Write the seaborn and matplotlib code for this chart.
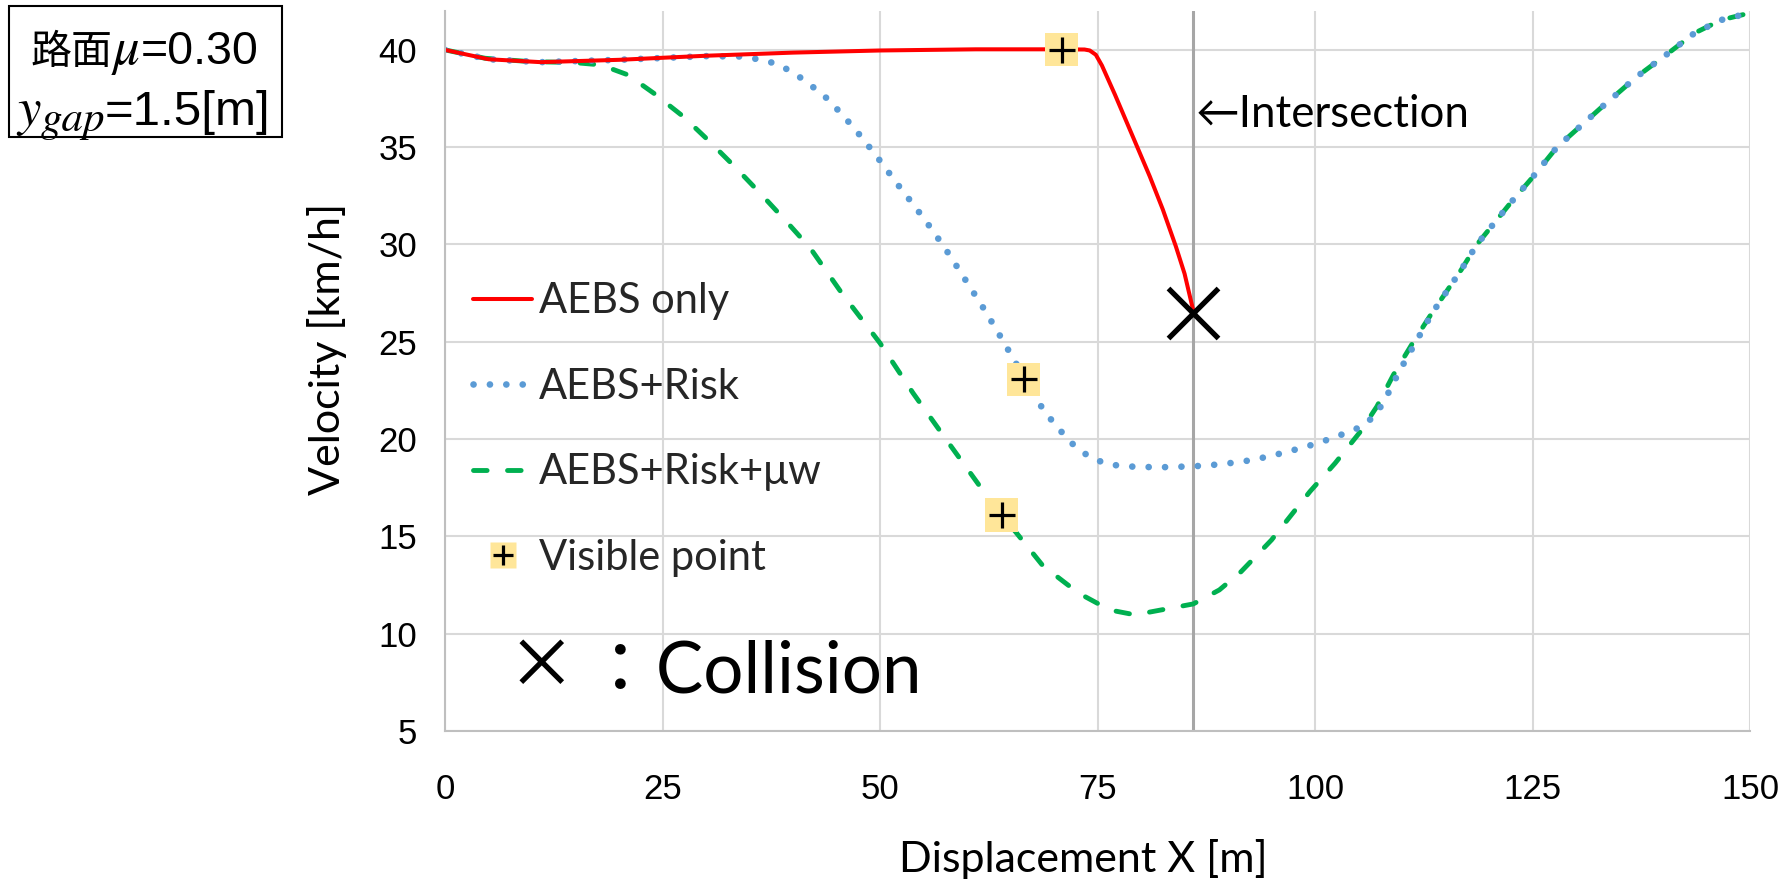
import matplotlib

matplotlib.use("Agg")
import matplotlib.pyplot as plt
import pandas as pd
import seaborn as sns
from matplotlib.lines import Line2D
from matplotlib.patches import Rectangle

# shared rising tail (AEBS+Risk and AEBS+Risk+uw overlap here)
tail_x = [116.8, 118.6, 122.4, 124.9, 127.8, 132.8, 137.0, 140.6, 143.6, 146.7, 150.0]
tail_y = [28.7, 30.0, 32.1, 33.4, 35.0, 37.0, 38.63, 39.83, 40.86, 41.54, 41.9]

only_x = [0, 5, 11, 20, 30, 40, 50, 61, 70, 73.5, 74.1, 74.8, 75.5, 77.0, 79.0, 81.0, 82.5,
          84.0, 85.0, 86.0]
only_y = [40.0, 39.52, 39.37, 39.49, 39.7, 39.86, 39.97, 40.03, 40.03, 40.02, 39.97, 39.75,
          39.2, 37.7, 35.6, 33.5, 31.8, 29.9, 28.5, 26.6]

risk_x = [0, 5, 11, 20, 30, 34, 36, 38, 40, 42, 44, 46, 48, 50, 52, 54, 56, 58, 60, 62, 64,
          66, 68, 70, 72, 74, 76, 78, 82, 86, 89.3, 92.9, 96.7, 100.4, 103.9, 105.6, 107.0,
          108.0, 109.7, 111.6, 113.5] + tail_x
risk_y = [40.0, 39.52, 39.37, 39.49, 39.68, 39.66, 39.52, 39.3, 38.85, 38.2, 37.47, 36.5,
          35.45, 34.3, 33.1, 31.95, 30.75, 29.45, 28.05, 26.65, 25.15, 23.6, 22.0, 20.8, 19.8,
          19.1, 18.73, 18.6, 18.55, 18.6, 18.71, 18.93, 19.33, 19.8, 20.37, 20.7, 21.28, 22.0,
          23.5, 25.0, 26.5] + tail_y

mu_x = [0, 4.6, 9.7, 14.8, 17.9, 21.0, 24.0, 27.4, 30.2, 33.3, 36.4, 39.4, 42.0, 45.6, 50.0,
        53.8, 57.9, 61.5, 64.0, 66.0, 68.7, 72.8, 76.4, 79.3, 86.0, 89.0, 91.5, 95.0, 97.0,
        99.4, 102.3, 105.2, 107.1, 109.0, 111.3, 113.4] + tail_x
mu_y = [40.0, 39.57, 39.4, 39.35, 39.23, 38.72, 37.77, 36.57, 35.38, 34.0, 32.55, 31.1, 29.8,
        27.5, 24.93, 22.36, 19.79, 17.56, 16.1, 15.0, 13.5, 12.09, 11.22, 10.97, 11.53, 12.25,
        13.19, 14.82, 15.95, 17.3, 18.76, 20.38, 21.67, 23.3, 25.0, 26.46] + tail_y

visible_x = [70.9, 66.5, 64.0]
visible_y = [40.0, 23.08, 16.1]

collision_x = [86.0]
collision_y = [26.5]
intersection_x = 86.0

series_labels = ["AEBS only", "AEBS+Risk", "AEBS+Risk+μw", "Visible point"]

RED = "#FF0000"
BLUE = "#5B9BD5"
GREEN = "#00B050"
YELLOW = "#FFE699"
CJK = "Noto Sans CJK JP"
DOTS = (0, (0.01, 2.45))
DASHES = (0, (2.8, 4.2))


def chain_text(fig, renderer, x, y, pieces):
    # lay pieces of one line side by side on a common baseline
    for text, props, dy in pieces:
        t = fig.text(x, y + dy, text, va="baseline", ha="left", color="black", **props)
        x = t.get_window_extent(renderer).x1 / fig.bbox.width


def main() -> None:
    sns.set_theme(style="whitegrid")
    plt.rcParams["font.family"] = ["Lato", CJK, "DejaVu Sans"]

    fig = plt.figure(figsize=(17.88, 8.85), dpi=100)
    ax = fig.add_axes([0.2489, 0.174, 0.7299, 0.8136])

    ax.axvline(intersection_x, color="#A6A6A6", lw=2.2, zorder=1.5)

    only = pd.DataFrame({"x": only_x, "v": only_y})
    risk = pd.DataFrame({"x": risk_x, "v": risk_y})
    mu = pd.DataFrame({"x": mu_x, "v": mu_y})

    sns.lineplot(data=mu, x="x", y="v", sort=False, estimator=None, color=GREEN, lw=3.5,
                 linestyle=DASHES, dash_capstyle="round", ax=ax, zorder=2)
    sns.lineplot(data=risk, x="x", y="v", sort=False, estimator=None, color=BLUE, lw=4.8,
                 linestyle=DOTS, dash_capstyle="round", ax=ax, zorder=2.2)
    sns.lineplot(data=only, x="x", y="v", sort=False, estimator=None, color=RED, lw=2.9,
                 solid_capstyle="round", solid_joinstyle="round", ax=ax, zorder=2.4)

    sns.scatterplot(x=visible_x, y=visible_y, marker="s", s=566, color=YELLOW,
                    edgecolor="none", ax=ax, zorder=5)
    sns.scatterplot(x=visible_x, y=visible_y, marker="+", s=361, color="black",
                    linewidth=2.3, ax=ax, zorder=6)
    sns.scatterplot(x=collision_x, y=collision_y, marker="x", s=1296, color="black",
                    linewidth=3.8, ax=ax, zorder=6)

    ax.set_xlim(0, 150)
    ax.set_ylim(5, 42)
    ax.set_xticks(range(0, 151, 25))
    ax.set_yticks(range(5, 41, 5))
    ax.grid(True, color="#D9D9D9", lw=1.5)
    ax.set_axisbelow(True)
    for side in ("top", "right"):
        ax.spines[side].set_visible(False)
    for side in ("left", "bottom"):
        ax.spines[side].set_color("#BFBFBF")
        ax.spines[side].set_linewidth(1.5)
    ax.tick_params(axis="x", labelsize=25, pad=30, length=0, colors="black")
    ax.tick_params(axis="y", labelsize=25, pad=20, length=0, colors="black")
    for label in ax.get_xticklabels() + ax.get_yticklabels():
        label.set_fontfamily(["Liberation Sans"])

    ax.set_xlabel("Displacement X [m]", fontsize=31, color="black")
    ax.set_ylabel("Velocity [km/h]", fontsize=31, color="black")
    ax.xaxis.set_label_coords(0.489, -0.1958)
    ax.yaxis.set_label_coords(-0.0904, 0.531)
    ax.xaxis.label.set_va("baseline")
    ax.yaxis.label.set_va("center")

    handles = [
        Line2D([], [], color=RED, lw=2.9),
        Line2D([], [], color=BLUE, lw=4.8, linestyle=DOTS, dash_capstyle="round"),
        Line2D([], [], color=GREEN, lw=3.5, linestyle=DASHES, dash_capstyle="round"),
        (Line2D([], [], ls="none", marker="s", ms=19, mfc=YELLOW, mec="none"),
         Line2D([], [], ls="none", marker="+", ms=15, mew=2.3, color="black")),
    ]
    ax.legend(handles, series_labels, loc="upper left",
              bbox_to_anchor=(0.2645, 0.681), bbox_transform=fig.transFigure, frameon=False,
              handlelength=1.42, handletextpad=0.17, labelspacing=1.14,
              borderpad=0, borderaxespad=0, numpoints=1,
              prop={"family": ["Lato", "DejaVu Sans"], "size": 30})

    ax.text(11.1, 8.5, "×", fontsize=58, va="center", ha="center", family="STIXGeneral",
            color="black")
    ax.text(16.1, 7.0, "：Collision", fontsize=51, va="baseline", ha="left",
            family=["Lato", CJK], color="black")
    ax.text(86.3, 36.7, "←Intersection", fontsize=31.5, va="center", ha="left",
            family=["Lato", CJK], color="black")

    fig.patches.append(Rectangle((0.00503, 0.8452), 0.1527, 0.148, transform=fig.transFigure,
                                 fill=False, edgecolor="black", lw=1.5))
    renderer = fig.canvas.get_renderer()
    italic = {"family": "STIXGeneral", "style": "italic"}
    chain_text(fig, renderer, 0.0173, 0.9277, [
        ("路面", {"family": CJK, "size": 29.5}, 0),
        ("μ", dict(italic, size=38), 0),
        ("=0.30", {"family": "Liberation Sans", "size": 33.5}, 0),
    ])
    chain_text(fig, renderer, 0.0095, 0.8585, [
        ("y", dict(italic, size=38), 0),
        ("gap", dict(italic, size=31), -0.007),
        ("=1.5[m]", {"family": "Liberation Sans", "size": 35.5}, 0),
    ])

    fig.savefig("out.png", dpi=100)
    plt.close(fig)


if __name__ == "__main__":
    main()
